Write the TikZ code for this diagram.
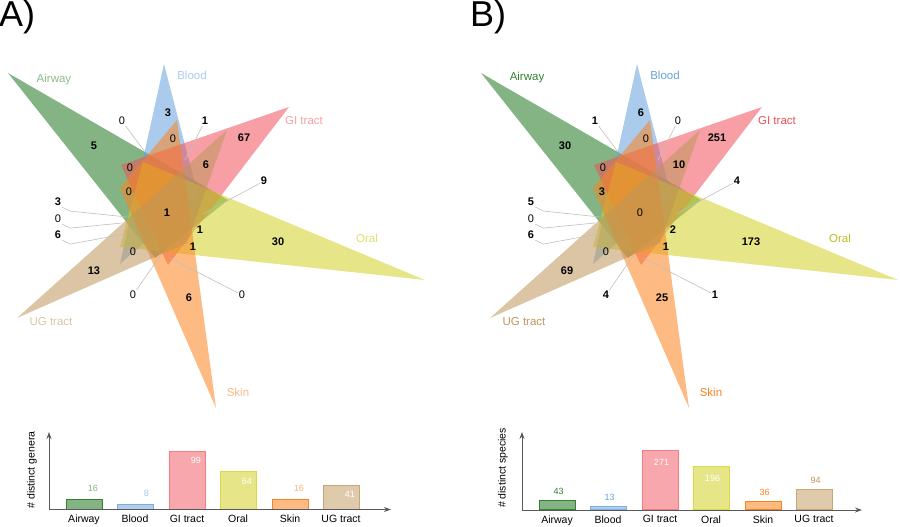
\documentclass[tikz,border=0pt]{standalone}
\usepackage{fontspec}
\setmainfont{Liberation Sans}
\usepackage{tikz}
\usetikzlibrary{arrows.meta,positioning}
\usepackage{xcolor}

\definecolor{airway}{RGB}{50,130,50}
\definecolor{blood}{RGB}{100,160,220}
\definecolor{gitract}{RGB}{240,80,90}
\definecolor{oral}{RGB}{210,210,40}
\definecolor{skin}{RGB}{252,130,30}
\definecolor{ugtract}{RGB}{190,150,90}

\begin{document}
\begin{tikzpicture}[
  x=1pt, y=-1pt,
  tri/.style={fill opacity=0.55},
  setlab/.style={font=\fontsize{11.5}{12}\selectfont},
  numlab/.style={font=\bfseries\fontsize{11}{12}\selectfont,inner sep=1pt},
  zerolab/.style={font=\fontsize{11}{12}\selectfont,inner sep=1pt},
  leader/.style={draw=black!25,line width=0.6pt},
  barbox/.style={draw,line width=0.9pt,minimum width=36pt,anchor=south,inner sep=0pt},
  barval/.style={font=\fontsize{9}{10}\selectfont,inner sep=0pt},
  catlab/.style={font=\fontsize{10.5}{12}\selectfont},
  axisline/.style={draw=black!65,line width=0.9pt,-{Stealth[length=7pt,width=5pt]}},
  panellab/.style={font=\fontsize{36}{38}\selectfont,inner sep=0pt,anchor=base west}
]
\useasboundingbox (0,0) rectangle (900,527);

% Panel letters
\node[panellab] (panA) at (-1,27) {A)};
\node[panellab] (panB) at (470,27) {B)};

%%%%%%%% Panel A: genera
\begin{scope}
% Venn triangles
\fill[airway,tri,fill opacity=0.6] (8,73) -- (228,200) -- (155,258) -- cycle;
\fill[blood,tri] (164,64) -- (198,195) -- (120,264) -- cycle;
\fill[gitract,tri] (289,107) -- (121,165) -- (168,265) -- cycle;
\fill[oral,tri] (425,280) -- (143,162) -- (120,247) -- cycle;
\fill[skin,tri] (216,408) -- (177,120) -- (120,188) -- cycle;
\fill[ugtract,tri] (17,318) -- (227,130) -- (187,243) -- cycle;

% Set names
\node[setlab,text=airway!55] (setAirA) at (54,80) {Airway};
\node[setlab,text=blood!55] (setBloA) at (192,75) {Blood};
\node[setlab,text=gitract!55] (setGiA) at (304,121) {GI tract};
\node[setlab,text=oral!70] (setOraA) at (367,238) {Oral};
\node[setlab,text=skin!55] (setSkiA) at (238,392) {Skin};
\node[setlab,text=ugtract!55] (setUgA) at (51,322) {UG tract};

% Counts
\node[numlab] (cBA) at (168,113) {3};
\node[zerolab] (cABA) at (122,121) {0};
\node[numlab] (cBGA) at (205,121) {1};
\node[zerolab] (cBSA) at (173,139) {0};
\node[numlab] (cGA) at (244,138) {67};
\node[numlab] (cAA) at (94,146) {5};
\node[zerolab] (cAGA) at (130,168) {0};
\node[numlab] (cGUA) at (206,165) {6};
\node[numlab] (cGOA) at (264,181) {9};
\node[zerolab] (cASA) at (129,192) {0};
\node[numlab] (cAllA) at (167,213) {1};
\node[numlab] (cL1A) at (58,202) {3};
\node[zerolab] (cL2A) at (58,219) {0};
\node[numlab] (cL3A) at (58,235) {6};
\node[numlab] (cAOA) at (200,230) {1};
\node[numlab] (cOA) at (278,242) {30};
\node[numlab] (cOSA) at (193,247) {1};
\node[zerolab] (cAUA) at (133,252) {0};
\node[numlab] (cUA) at (94,271) {13};
\node[zerolab] (cSUA) at (133,295) {0};
\node[numlab] (cSA) at (189,298) {6};
\node[zerolab] (cOUA) at (242,295) {0};

% Leader lines
\coordinate (pABA) at (145,152);
\coordinate (pBGA) at (185,160);
\coordinate (pGOA) at (203,214);
\coordinate (pL1A) at (127,217);
\coordinate (pL2A) at (122,223);
\coordinate (pL3A) at (125,234);
\coordinate (pSUA) at (160,256);
\coordinate (pOUA) at (170,258);
\draw[leader] (cABA) -- (pABA);
\draw[leader] (cBGA) -- (pBGA);
\draw[leader] (cGOA) -- (pGOA);
\draw[leader] (cL1A.south east) -- ++(8,4) -- (pL1A);
\draw[leader] (cL2A.south east) -- ++(8,4) -- (pL2A);
\draw[leader] (cL3A.south east) -- ++(8,4) -- (pL3A);
\draw[leader] (cSUA) -- (pSUA);
\draw[leader] (cOUA) -- (pOUA);

% Bar chart
\node[barbox,draw=airway,fill=airway!60,minimum height=9.4pt] (barAirA) at (84,509.5) {};
\node[barbox,draw=blood!85,fill=blood!50,minimum height=4.7pt] (barBloA) at (135,509.5) {};
\node[barbox,draw=gitract!75,fill=gitract!50,minimum height=58pt] (barGiA) at (187,509.5) {};
\node[barbox,draw=oral!85,fill=oral!55,minimum height=37.4pt] (barOraA) at (238,509.5) {};
\node[barbox,draw=skin,fill=skin!55,minimum height=9.4pt] (barSkiA) at (290,509.5) {};
\node[barbox,draw=ugtract!85,fill=ugtract!50,minimum height=24pt] (barUgA) at (341,509.5) {};

\node[barval,anchor=east,text=airway!60] (vAirA) at ([xshift=14pt,yshift=11pt]barAirA.north) {16};
\node[barval,anchor=east,text=blood!60] (vBloA) at ([xshift=14pt,yshift=11pt]barBloA.north) {8};
\node[barval,anchor=east,text=white] (vGiA) at ([xshift=14pt,yshift=-10pt]barGiA.north) {99};
\node[barval,anchor=east,text=white] (vOraA) at ([xshift=14pt,yshift=-10pt]barOraA.north) {64};
\node[barval,anchor=east,text=skin!60] (vSkiA) at ([xshift=14pt,yshift=11pt]barSkiA.north) {16};
\node[barval,anchor=east,text=white] (vUgA) at ([xshift=14pt,yshift=-10pt]barUgA.north) {41};

\node[catlab,below=2pt of barAirA.south] (kAirA) {Airway};
\node[catlab,below=2pt of barBloA.south] (kBloA) {Blood};
\node[catlab,below=2pt of barGiA.south] (kGiA) {GI tract};
\node[catlab,below=2pt of barOraA.south] (kOraA) {Oral};
\node[catlab,below=2pt of barSkiA.south] (kSkiA) {Skin};
\node[catlab,below=2pt of barUgA.south] (kUgA) {UG tract};

\coordinate (oriA) at (49,509.5);
\coordinate (ytopA) at (49,432);
\coordinate (xendA) at (391,509.5);
\draw[axisline] (oriA) -- (ytopA);
\draw[axisline] (oriA) -- (xendA);
\node[catlab,rotate=90] (yLabA) at (32,470) {\# distinct genera};
\end{scope}

%%%%%%%% Panel B: species
\begin{scope}[xshift=473pt]
% Venn triangles
\fill[airway,tri,fill opacity=0.6] (8,73) -- (228,200) -- (155,258) -- cycle;
\fill[blood,tri] (164,64) -- (198,195) -- (120,264) -- cycle;
\fill[gitract,tri] (289,107) -- (121,165) -- (168,265) -- cycle;
\fill[oral,tri] (425,280) -- (143,162) -- (120,247) -- cycle;
\fill[skin,tri] (216,408) -- (177,120) -- (120,188) -- cycle;
\fill[ugtract,tri] (17,318) -- (227,130) -- (187,243) -- cycle;

% Set names
\node[setlab,text=airway] (setAirB) at (54,78) {Airway};
\node[setlab,text=blood] (setBloB) at (192,75) {Blood};
\node[setlab,text=gitract] (setGiB) at (304,121) {GI tract};
\node[setlab,text=oral!90!black] (setOraB) at (367,238) {Oral};
\node[setlab,text=skin] (setSkiB) at (238,392) {Skin};
\node[setlab,text=ugtract] (setUgB) at (51,322) {UG tract};

% Counts
\node[numlab] (cBB) at (168,113) {6};
\node[numlab] (cABB) at (122,121) {1};
\node[zerolab] (cBGB) at (205,121) {0};
\node[zerolab] (cBSB) at (173,139) {0};
\node[numlab] (cGB) at (244,138) {251};
\node[numlab] (cAB) at (92,146) {30};
\node[zerolab] (cAGB) at (130,168) {0};
\node[numlab] (cGUB) at (206,165) {10};
\node[numlab] (cGOB) at (264,181) {4};
\node[numlab] (cASB) at (129,192) {3};
\node[zerolab] (cAllB) at (167,213) {0};
\node[numlab] (cL1B) at (58,202) {5};
\node[zerolab] (cL2B) at (58,219) {0};
\node[numlab] (cL3B) at (58,235) {6};
\node[numlab] (cAOB) at (200,230) {2};
\node[numlab] (cOB) at (278,242) {173};
\node[numlab] (cOSB) at (193,247) {1};
\node[zerolab] (cAUB) at (133,252) {0};
\node[numlab] (cUB) at (94,271) {69};
\node[numlab] (cSUB) at (133,295) {4};
\node[numlab] (cSB) at (189,298) {25};
\node[numlab] (cOUB) at (242,295) {1};

% Leader lines
\coordinate (pABB) at (145,152);
\coordinate (pBGB) at (185,160);
\coordinate (pGOB) at (203,214);
\coordinate (pL1B) at (127,217);
\coordinate (pL2B) at (122,223);
\coordinate (pL3B) at (125,234);
\coordinate (pSUB) at (160,256);
\coordinate (pOUB) at (170,258);
\draw[leader] (cABB) -- (pABB);
\draw[leader] (cBGB) -- (pBGB);
\draw[leader] (cGOB) -- (pGOB);
\draw[leader] (cL1B.south east) -- ++(8,4) -- (pL1B);
\draw[leader] (cL2B.south east) -- ++(8,4) -- (pL2B);
\draw[leader] (cL3B.south east) -- ++(8,4) -- (pL3B);
\draw[leader] (cSUB) -- (pSUB);
\draw[leader] (cOUB) -- (pOUB);

% Bar chart
\node[barbox,draw=airway,fill=airway!60,minimum height=9.4pt] (barAirB) at (84,510) {};
\node[barbox,draw=blood!85,fill=blood!50,minimum height=2.8pt] (barBloB) at (135,510) {};
\node[barbox,draw=gitract!75,fill=gitract!50,minimum height=59pt] (barGiB) at (187,510) {};
\node[barbox,draw=oral!85,fill=oral!55,minimum height=42.7pt] (barOraB) at (238,510) {};
\node[barbox,draw=skin,fill=skin!55,minimum height=7.8pt] (barSkiB) at (290,510) {};
\node[barbox,draw=ugtract!85,fill=ugtract!50,minimum height=20.5pt] (barUgB) at (341,510) {};

\node[barval,text=airway] (vAirB) at ([xshift=1.5pt,yshift=8.5pt]barAirB.north) {43};
\node[barval,text=blood] (vBloB) at ([xshift=1.5pt,yshift=9pt]barBloB.north) {13};
\node[barval,text=white] (vGiB) at ([xshift=1.5pt,yshift=-12pt]barGiB.north) {271};
\node[barval,text=white] (vOraB) at ([xshift=1.5pt,yshift=-12pt]barOraB.north) {196};
\node[barval,text=skin] (vSkiB) at ([xshift=1.5pt,yshift=9pt]barSkiB.north) {36};
\node[barval,text=ugtract] (vUgB) at ([xshift=1.5pt,yshift=8.5pt]barUgB.north) {94};

\node[catlab,below=2pt of barAirB.south] (kAirB) {Airway};
\node[catlab,below=2pt of barBloB.south] (kBloB) {Blood};
\node[catlab,below=2pt of barGiB.south] (kGiB) {GI tract};
\node[catlab,below=2pt of barOraB.south] (kOraB) {Oral};
\node[catlab,below=2pt of barSkiB.south] (kSkiB) {Skin};
\node[catlab,below=2pt of barUgB.south] (kUgB) {UG tract};

\coordinate (oriB) at (49,510);
\coordinate (ytopB) at (49,432);
\coordinate (xendB) at (389,510);
\draw[axisline] (oriB) -- (ytopB);
\draw[axisline] (oriB) -- (xendB);
\node[catlab,rotate=90] (yLabB) at (30,468) {\# distinct species};
\end{scope}

\end{tikzpicture}
\end{document}
